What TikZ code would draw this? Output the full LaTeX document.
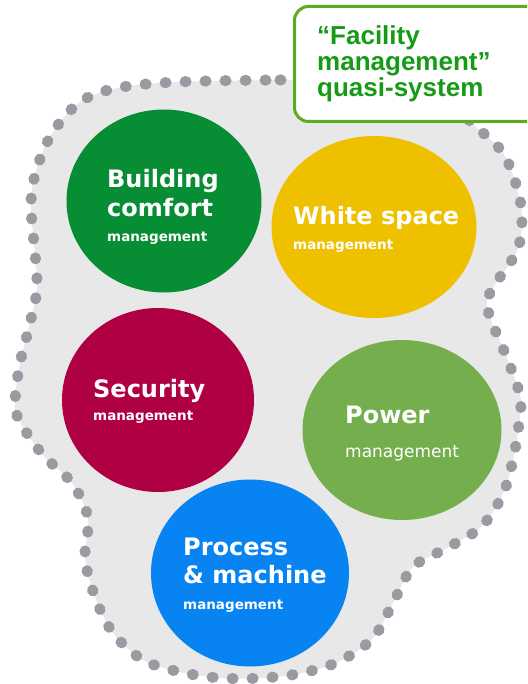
\documentclass[tikz,border=0pt]{standalone}
\usepackage{fontspec}
\setmainfont{Liberation Sans}
\newfontfamily\dejavu{DejaVu Sans}
\usepackage{tikz}
\usetikzlibrary{shapes}

\begin{document}
\begin{tikzpicture}[x=1pt,y=-1pt]
  % Colors
  \definecolor{blobfill}{RGB}{232,232,232}
  \definecolor{dotgray}{RGB}{154,154,162}
  \definecolor{comfort}{RGB}{7,141,52}
  \definecolor{whitespace}{RGB}{238,192,0}
  \definecolor{security}{RGB}{176,0,68}
  \definecolor{power}{RGB}{117,174,76}
  \definecolor{process}{RGB}{8,131,242}
  \definecolor{fmtext}{RGB}{22,155,22}
  \definecolor{fmborder}{RGB}{92,170,30}
  % Styles
  \tikzstyle{disc}=[ellipse,inner sep=0pt,minimum width=198,minimum height=184]
  \tikzstyle{big text}=[anchor=base west,inner sep=0pt,text=white,font=\dejavu\bfseries\fontsize{24}{24}\selectfont]
  \tikzstyle{small text}=[anchor=base west,inner sep=0pt,text=white,font=\dejavu\bfseries\fontsize{13.5}{13.5}\selectfont]
  \tikzstyle{dots}=[draw=dotgray,line width=11pt,line cap=round,dash pattern=on 1pt off 19pt]
  \tikzstyle{fm box}=[draw=fmborder,line width=3pt,fill=white,rounded corners=14pt,inner sep=0pt]

  \clip (0,0) rectangle (527,684);

  % The blob
  \filldraw[fill=blobfill,style=dots] plot[smooth cycle,tension=0.55] coordinates {
    (178,82) (280,80) (380,80) (440,96) (475,126) (503,153) (518,191)
    (522,221) (517,251) (496,283) (487,301) (491,320) (507,358) (520,395)
    (520,415) (514,455) (503,494) (481,527) (447,548) (413,567) (393,603)
    (373,638) (340,661) (302,673) (262,678) (220,678) (180,672) (143,660)
    (113,633) (95,597) (85,558) (88,518) (72,483) (43,455) (20,422)
    (15,402) (20,363) (30,323) (37,283) (31,204) (38,165) (53,132)
    (80,102) (117,88)};

  % The circles
  \node[disc,fill=comfort,minimum width=195,minimum height=183] (comfort) at (164,201) {};
  \node[disc,fill=whitespace,minimum width=205,minimum height=182] (wspace) at (374,227) {};
  \node[disc,fill=security,minimum width=192,minimum height=184] (security) at (158,400) {};
  \node[disc,fill=power,minimum width=199,minimum height=180] (power) at (402,430) {};
  \node[disc,fill=process,minimum width=198,minimum height=187] (process) at (250,573) {};

  \node[big text] (comfort1) at (107,188) {Building};
  \node[big text] (comfort2) at (107,217) {comfort};
  \node[small text] (comfort3) at (107,242) {management};

  \node[big text] (wspace1) at (293,225) {White space};
  \node[small text] (wspace2) at (293,250) {management};

  \node[big text] (security1) at (93,397) {Security};
  \node[small text] (security2) at (93,420) {management};

  \node[big text] (power1) at (345,423) {Power};
  \node[small text,font=\dejavu\fontsize{17}{17}\selectfont] (power2) at (345,457) {management};

  \node[big text] (process1) at (183,555) {Process};
  \node[big text] (process2) at (183,583) {\& machine};
  \node[small text] (process3) at (183,609) {management};

  % The label box
  \node[fm box,anchor=north west,minimum width=262,minimum height=115] (fmbox) at (293,5) {};
  \node[anchor=base west,inner sep=0pt,align=left,text=fmtext,
        font=\bfseries\fontsize{26}{26}\selectfont] (fmlabel) at (317,97)
        {“Facility\\management”\\quasi-system};
\end{tikzpicture}
\end{document}
